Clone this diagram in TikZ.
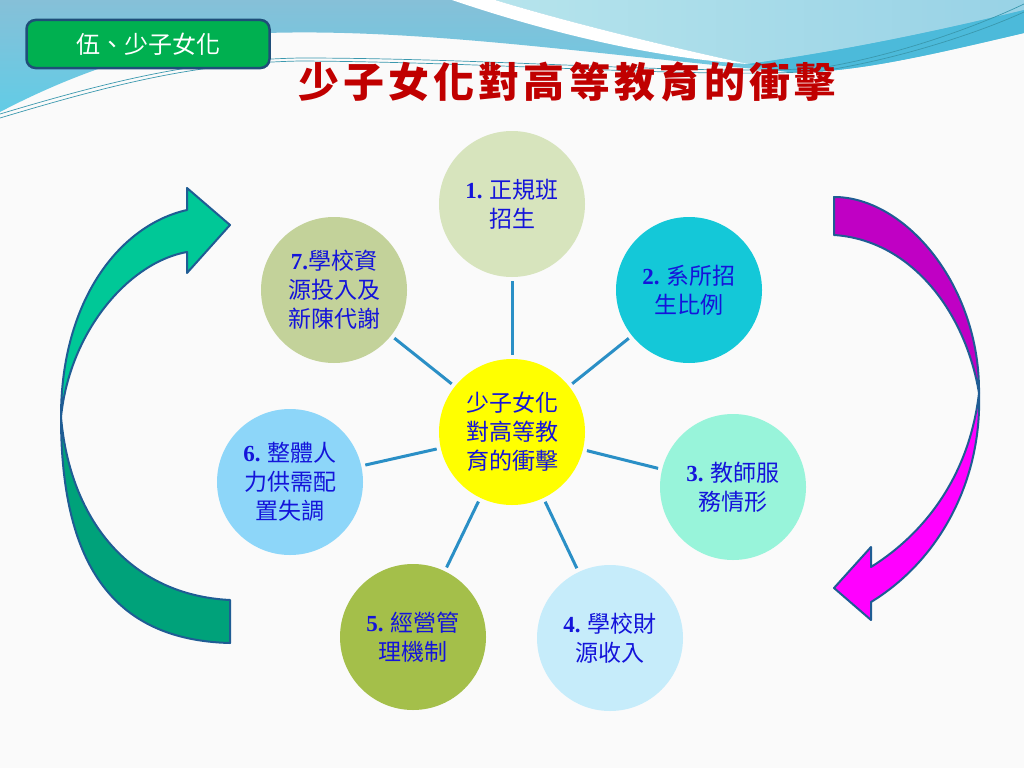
\documentclass[tikz,border=0pt]{standalone}
\usepackage{fontspec}
\setmainfont{Noto Sans CJK TC}
\newfontfamily\numfont{Liberation Serif}
\newfontfamily\titlefont[LetterSpace=10]{Noto Sans CJK TC}
\usetikzlibrary{calc}

\definecolor{pagegray}{HTML}{FAFAFA}
\definecolor{skysteel}{HTML}{86C0D8}
\definecolor{skycyan}{HTML}{62CCE6}
\definecolor{skypale}{HTML}{B6E4EC}
\definecolor{skylight}{HTML}{98D2E6}
\definecolor{skyband}{HTML}{4CBADA}
\definecolor{swirlteal}{HTML}{3A98AE}
\definecolor{tabgreen}{HTML}{00B050}
\definecolor{tabedge}{HTML}{1F4E79}
\definecolor{titlered}{HTML}{C00000}
\definecolor{txtblue}{HTML}{1414DA}
\definecolor{spokeblue}{HTML}{2A8FC6}
\definecolor{ribbonedge}{HTML}{1F5C94}
\definecolor{greenup}{HTML}{00C897}
\definecolor{greenlow}{HTML}{00A27A}
\definecolor{magup}{HTML}{C000C4}
\definecolor{maglow}{HTML}{FF00FF}
\definecolor{hubyellow}{HTML}{FFFF00}
\definecolor{cA}{HTML}{D7E4BD}
\definecolor{cB}{HTML}{14C8D8}
\definecolor{cC}{HTML}{98F4DA}
\definecolor{cD}{HTML}{C6ECFA}
\definecolor{cE}{HTML}{A4BF4A}
\definecolor{cF}{HTML}{8DD6F9}
\definecolor{cG}{HTML}{C3D29A}

\newcommand{\numlbl}[1]{{\numfont\bfseries #1}}

\begin{document}
\begin{tikzpicture}[x=1pt,y=-1pt,
        bubble/.style={circle, minimum size=146pt, inner sep=0pt, align=center,
            text=txtblue, font=\fontsize{23}{29}\selectfont},
        spoke/.style={draw=spokeblue, line width=3pt, shorten <=4pt, shorten >=4pt},
        ribbon/.style={draw=ribbonedge, line width=2pt, line join=round},
        swirl/.style={draw=swirlteal, line width=0.7pt},
        tabbox/.style={rectangle, rounded corners=9pt, minimum width=243pt,
            minimum height=48pt, fill=tabgreen, draw=tabedge, line width=2.5pt,
            text=white, font=\fontsize{24}{24}\selectfont}]
        \fill[pagegray] (0,0) rectangle (1024,768);
        \useasboundingbox (0,0) rectangle (1024,768);

        % top band
        \shade[top color=skysteel, bottom color=skycyan]
            (0,0) -- (1024,0) -- (1024,33)
            .. controls (930,55) and (850,74) .. (790,72)
            .. controls (620,58) and (430,28) .. (267,33)
            .. controls (170,40) and (80,70) .. (0,112) -- cycle;
        \shade[left color=skypale, right color=skylight]
            (495,0) .. controls (560,20) and (660,45) .. (748,64)
            .. controls (850,50) and (950,28) .. (1024,10) -- (1024,0) -- cycle;
        \fill[skyband]
            (748,64) .. controls (850,50) and (950,28) .. (1024,10)
            -- (1024,33) .. controls (930,55) and (850,74) .. (790,72)
            .. controls (770,70) and (755,66) .. (748,64) -- cycle;
        \fill[white]
            (452,0) .. controls (540,30) and (650,58) .. (748,64)
            .. controls (660,45) and (560,20) .. (495,0) -- cycle;
        \draw[swirl]
            (0,114) .. controls (120,78) and (200,60) .. (300,58)
            .. controls (500,58) and (700,76) .. (820,68)
            .. controls (900,55) and (980,25) .. (1024,4);
        \draw[swirl]
            (0,118) .. controls (120,82) and (200,63) .. (300,61)
            .. controls (500,62) and (700,79) .. (822,71)
            .. controls (905,58) and (985,30) .. (1024,12);

        \node[tabbox] (tab) at (148,44) {伍、少子女化};
        \node[text=titlered, font=\fontsize{41}{41}\titlefont\bfseries]
            (title) at (567,82) {少子女化對高等教育的衝擊};

        % curved arrows
        \filldraw[ribbon, fill=greenlow]
            (61,417) .. controls (61,560) and (110,640) .. (230,643)
            -- (230,600) .. controls (130,595) and (70,520) .. (61,417) -- cycle;
        \filldraw[ribbon, fill=greenup]
            (61,417) .. controls (61,300) and (120,225) .. (187,210)
            -- (187,188) -- (230,225) -- (187,273) -- (187,252)
            .. controls (130,262) and (70,330) .. (61,417) -- cycle;
        \filldraw[ribbon, fill=magup]
            (834,197) .. controls (905,197) and (980,285) .. (979,393)
            .. controls (965,310) and (910,240) .. (834,235) -- cycle;
        \filldraw[ribbon, fill=maglow]
            (979,393) .. controls (982,480) and (940,560) .. (871,602)
            -- (871,620) -- (834,588) -- (871,547) -- (871,567)
            .. controls (930,530) and (970,470) .. (979,393) -- cycle;

        \node[bubble, fill=hubyellow] (hub) at (512,432) {少子女化\\對高等教\\育的衝擊};
        \node[bubble, fill=cA] (n1) at (512,204) {\numlbl{1.} 正規班\\招生};
        \node[bubble, fill=cB] (n2) at (689,290) {\numlbl{2.} 系所招\\生比例};
        \node[bubble, fill=cC] (n3) at (733,487) {\numlbl{3.} 教師服\\務情形};
        \node[bubble, fill=cD] (n4) at (610,638) {\numlbl{4.} 學校財\\源收入};
        \node[bubble, fill=cE] (n5) at (413,637) {\numlbl{5.} 經營管\\理機制};
        \node[bubble, fill=cF] (n6) at (290,482) {\numlbl{6.} 整體人\\力供需配\\置失調};
        \node[bubble, fill=cG] (n7) at (334,290) {\numlbl{7.}學校資\\源投入及\\新陳代謝};

        \foreach \n in {n1,n2,n3,n4,n5,n6,n7}
            \draw[spoke] (hub) -- (\n);
\end{tikzpicture}
\end{document}
